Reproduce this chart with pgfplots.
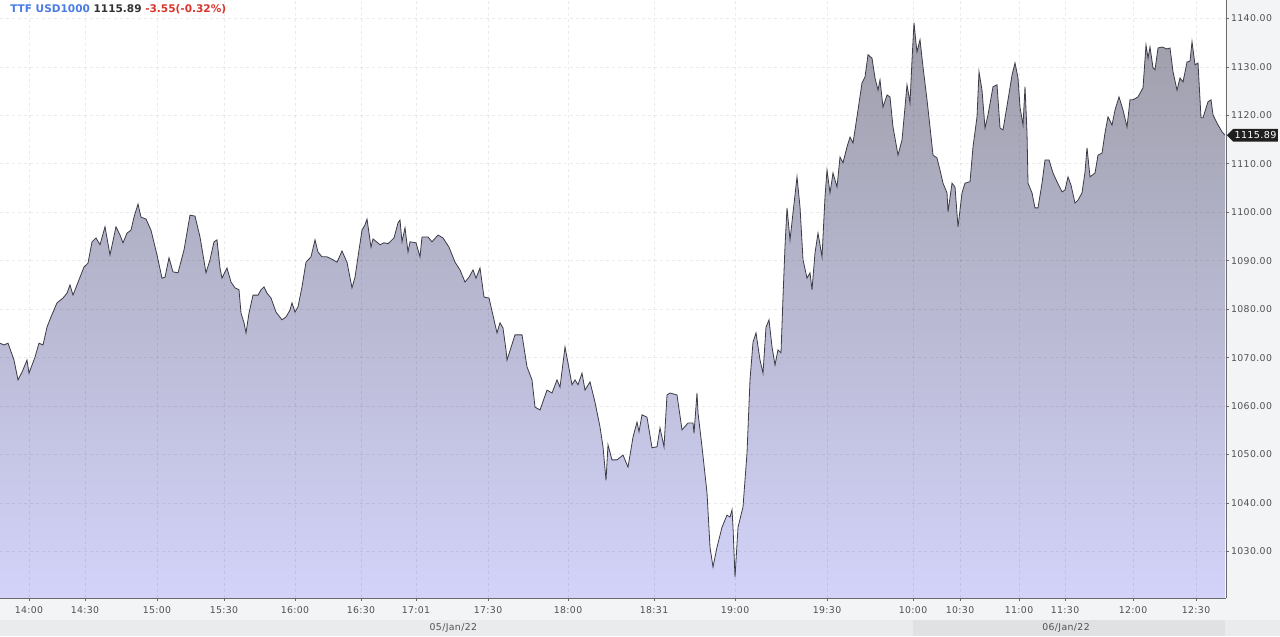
\documentclass[border=0pt]{standalone}
\usepackage{fontspec}
\setmainfont{DejaVu Sans}
\newfontfamily\tickfont[LetterSpace=4]{DejaVu Sans}
\usepackage{pgfplots}
\pgfplotsset{compat=1.18}
\usepackage{pgfplotstable}
\usetikzlibrary{shapes.symbols}

\definecolor{bg}{HTML}{F3F4F6}
\definecolor{bandlight}{HTML}{EAEBED}
\definecolor{banddark}{HTML}{E0E1E3}
\definecolor{axisgray}{HTML}{6A6A6A}
\definecolor{labelgray}{HTML}{505050}
\definecolor{linegray}{HTML}{3C3C46}
\definecolor{filltop}{HTML}{9E9EAA}
\definecolor{fillbot}{HTML}{D3D3FA}
\definecolor{ttfblue}{HTML}{4B7BE5}
\definecolor{ttfdark}{HTML}{333333}
\definecolor{ttfred}{HTML}{D9342B}

\pgfplotstableread{
x y
0 1073.0
4 1072.6
8 1073.0
14 1069.5
18 1065.4
22 1067.0
27 1069.5
29 1066.8
35 1070.1
39 1073.0
43 1072.6
47 1076.3
51 1078.4
57 1081.3
63 1082.3
67 1083.3
70 1085.0
73 1082.9
80 1086.6
84 1088.7
88 1089.5
92 1093.9
96 1094.7
100 1093.3
105 1097.0
110 1091.2
116 1097.0
120 1095.3
123 1093.7
127 1095.7
131 1096.3
134 1099.0
138 1101.7
141 1099.0
146 1098.6
151 1096.3
157 1091.2
162 1086.4
165 1086.6
169 1090.6
173 1087.7
178 1087.5
184 1092.2
190 1099.4
195 1099.2
200 1094.9
206 1087.5
210 1090.2
214 1093.9
217 1094.3
220 1088.5
222 1086.4
227 1088.5
231 1085.6
235 1084.4
239 1084.0
241 1079.2
244 1077.2
246 1075.1
249 1079.2
253 1082.9
258 1082.9
261 1084.0
264 1084.6
267 1083.3
271 1082.3
276 1079.4
282 1077.8
286 1078.4
290 1079.8
292 1081.3
295 1079.4
298 1080.5
302 1084.6
306 1089.7
311 1090.8
315 1094.3
318 1091.8
322 1090.8
327 1090.8
333 1090.2
337 1089.7
342 1092.0
347 1089.7
352 1084.4
355 1086.6
359 1092.2
362 1096.3
365 1097.4
367 1098.6
369 1095.7
371 1092.8
373 1094.5
380 1093.3
384 1093.7
388 1093.5
394 1094.7
398 1097.8
400 1098.4
402 1093.9
405 1096.8
408 1091.8
410 1093.9
416 1093.7
420 1090.8
422 1094.9
428 1094.9
432 1093.9
438 1095.3
443 1094.7
449 1092.8
455 1089.7
460 1088.1
465 1085.6
469 1086.6
473 1088.1
476 1086.4
480 1088.5
484 1082.5
489 1082.3
494 1077.8
497 1075.1
500 1077.2
503 1076.1
506 1071.6
507 1069.5
515 1074.7
522 1074.7
527 1068.1
532 1065.4
535 1059.8
540 1059.2
547 1063.3
552 1062.7
557 1065.4
560 1063.9
565 1072.2
568 1068.9
572 1064.4
575 1065.4
578 1064.4
582 1066.8
585 1063.3
590 1065.0
595 1060.8
600 1055.7
603 1051.6
606 1044.7
608 1052.0
612 1048.9
617 1048.9
623 1049.9
628 1047.4
633 1053.6
637 1056.7
639 1054.7
642 1058.2
647 1057.7
652 1051.4
657 1051.6
660 1055.5
664 1051.6
667 1062.3
670 1062.7
677 1062.3
682 1055.1
688 1056.5
693 1056.5
694 1054.4
697 1062.7
698 1058.6
702 1051.6
707 1042.1
710 1030.9
713 1026.8
717 1030.9
722 1035.0
727 1037.5
730 1037.1
732 1038.6
733 1035.0
735 1024.7
738 1035.0
743 1039.2
747 1050.3
750 1065.4
753 1073.2
756 1075.1
760 1069.5
763 1066.8
766 1076.3
769 1077.8
772 1072.2
775 1068.5
778 1071.6
781 1071.0
783 1082.5
785 1093.0
787 1100.9
790 1094.3
793 1099.9
797 1107.3
800 1101.1
803 1090.2
807 1086.4
810 1087.5
812 1084.0
815 1091.6
818 1095.7
822 1090.8
825 1103.2
827 1108.7
830 1104.0
833 1108.1
837 1105.2
840 1111.4
843 1110.2
847 1113.5
850 1115.5
853 1114.3
858 1121.1
862 1126.7
865 1127.9
868 1132.5
872 1131.8
875 1127.7
878 1125.2
880 1127.3
883 1121.7
887 1124.2
890 1123.8
893 1117.6
898 1111.8
902 1114.9
905 1121.7
907 1126.3
910 1122.6
912 1131.4
914 1139.1
916 1134.9
917 1133.1
920 1135.6
923 1130.0
927 1123.2
930 1117.6
933 1111.8
937 1111.2
940 1108.7
943 1106.0
947 1104.0
948 1100.1
952 1106.0
955 1105.2
958 1097.0
962 1104.0
965 1106.0
970 1106.3
973 1113.5
977 1119.7
979 1129.0
982 1125.2
985 1117.4
988 1120.1
993 1125.9
997 1126.3
1000 1117.4
1003 1117.0
1008 1123.2
1012 1128.3
1015 1130.8
1018 1127.7
1020 1121.7
1023 1118.0
1025 1125.9
1027 1116.4
1028 1106.0
1032 1104.0
1035 1100.9
1038 1100.9
1042 1106.0
1045 1110.8
1049 1110.8
1053 1108.1
1057 1106.3
1062 1104.2
1065 1104.6
1068 1107.3
1071 1105.6
1075 1101.9
1078 1102.5
1082 1104.0
1085 1108.3
1087 1113.3
1090 1107.3
1095 1108.1
1098 1111.8
1102 1112.2
1105 1116.4
1108 1119.7
1112 1118.0
1115 1121.1
1119 1123.8
1123 1121.1
1127 1117.6
1130 1123.2
1133 1123.2
1138 1123.8
1143 1125.7
1146 1134.5
1148 1131.8
1150 1134.1
1153 1129.8
1155 1129.4
1158 1133.9
1162 1134.1
1167 1133.7
1170 1133.9
1173 1129.0
1177 1125.2
1180 1127.7
1183 1126.9
1187 1131.0
1190 1131.2
1192 1135.2
1195 1130.4
1198 1130.8
1201 1119.5
1203 1119.5
1208 1122.8
1211 1123.2
1213 1120.1
1217 1118.4
1222 1116.6
1225 1115.9
}\pricedata

\begin{document}
\begin{tikzpicture}
\useasboundingbox (0,0) rectangle (960pt,477pt);
\fill[bg] (0,0) rectangle (960pt,477pt);
\fill[bandlight] (0,0) rectangle (960pt,12pt);
\fill[banddark] (684.75pt,0) rectangle (918.5pt,12pt);
\begin{axis}[
  at={(0pt,28.5pt)}, anchor=south west,
  scale only axis, width=919.5pt, height=448.5pt,
  xmin=0, xmax=1226, ymin=1020.4, ymax=1143.8,
  axis background/.style={fill=white},
  axis x line*=bottom, axis y line*=right,
  axis line style={color=axisgray, line width=0.6pt},
  xtick={29,85,157,224,295,361,416,488,568,654,735,827,913,960,1019,1065,1133,1196},
  xticklabels={14:00,14:30,15:00,15:30,16:00,16:30,17:01,17:30,18:00,18:31,19:00,19:30,10:00,10:30,11:00,11:30,12:00,12:30},
  ytick={1030,1040,1050,1060,1070,1080,1090,1100,1110,1120,1130,1140},
  yticklabels={1030.00,1040.00,1050.00,1060.00,1070.00,1080.00,1090.00,1100.00,1110.00,1120.00,1130.00,1140.00},
  tick align=outside, major tick length=2.5pt,
  tick style={color=axisgray, line width=0.5pt},
  ticklabel style={font=\tickfont\fontsize{7}{8}\selectfont, text=labelgray},
  xticklabel style={yshift=-0.3pt},
  yticklabel style={xshift=-2.2pt},
  grid=major,
  grid style={color=black, opacity=0.08, line width=0.5pt, dash pattern=on 2.25pt off 2.25pt},
  axis on top,
  clip mode=individual,
]
\addplot[draw=none, top color=filltop, bottom color=fillbot] table[x=x,y=y]{\pricedata} |- (axis cs:0,1020.4) -- cycle;
\addplot[color=linegray, line width=0.6pt, no marks] table[x=x,y=y]{\pricedata};
\node[signal, signal to=west, fill=black!88, text=white, font=\tickfont\fontsize{7.2}{8}\selectfont, inner xsep=1pt, inner ysep=2pt, anchor=west] at (axis cs:1226.5,1115.89) {1115.89};
\end{axis}
\node[anchor=west, font=\fontsize{7.9}{9}\selectfont\bfseries, inner sep=0pt] at (7.5pt,470.2pt)
  {\textcolor{ttfblue}{TTF USD1000} \textcolor{ttfdark}{1115.89} \textcolor{ttfred}{-3.55(-0.32\%)}};
\node[font=\tickfont\fontsize{7}{8}\selectfont, text=labelgray] at (340pt,6pt) {05/Jan/22};
\node[font=\tickfont\fontsize{7}{8}\selectfont, text=labelgray] at (799.5pt,6pt) {06/Jan/22};
\end{tikzpicture}
\end{document}
